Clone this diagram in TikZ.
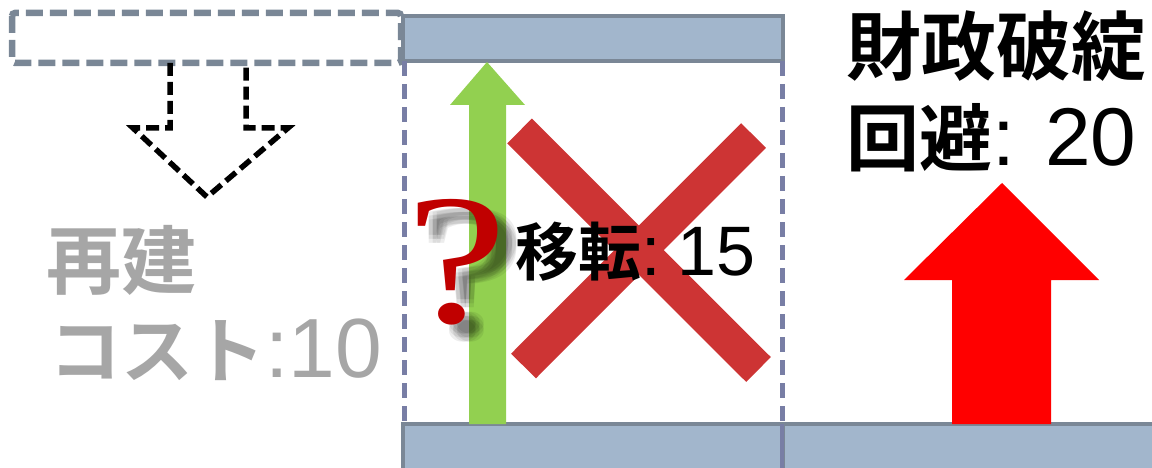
\documentclass[tikz,border=0pt]{standalone}
\usepackage{fontspec}
\newfontfamily\jp{Noto Sans CJK JP}[BoldFont={Noto Sans CJK JP Bold}]
\newfontfamily\arf{Liberation Sans}
\newfontfamily\serf{Liberation Serif}
\definecolor{boxgray}{RGB}{122,135,150}
\definecolor{barfill}{RGB}{162,182,204}
\definecolor{guideblue}{RGB}{120,126,165}
\definecolor{arrowgreen}{RGB}{146,208,80}
\definecolor{crossred}{RGB}{205,52,52}
\definecolor{qred}{RGB}{192,0,0}
\definecolor{txtgray}{RGB}{166,166,166}
\begin{document}
\begin{tikzpicture}[x=1pt,y=-1pt,
  ghostbox/.style={draw=boxgray,line width=6.5pt,dash pattern=on 17pt off 7pt,rounded corners=3pt},
  barbox/.style={fill=barfill,draw=boxgray,line width=3.5pt},
  guide/.style={draw=guideblue,line width=5pt,dash pattern=on 15pt off 8pt},
  dasharrow/.style={draw=black,line width=5.5pt,dash pattern=on 13pt off 6pt,line join=miter},
  crossbar/.style={draw=crossred,line width=35pt,line cap=butt},
  lbl/.style={inner sep=0,outer sep=0,anchor=base west},
  qmark/.style={lbl,xscale=1.22,font=\serf\fontsize{186}{186}\selectfont}]
\useasboundingbox (0,0) rectangle (1152,468);
% ghost box and dashed arrow
\draw[ghostbox] (12,13) rectangle (401,63);
\draw[dasharrow] (170,63) -- (170,128) -- (133,128) -- (207,197) -- (288,128) -- (246,128) -- (246,63);
% bars
\draw[barbox] (403,16) rectangle (783,61);
\draw[barbox] (403,424) rectangle (783,480);
\draw[barbox] (783,424) rectangle (1165,480);
% guides
\draw[guide] (404,61) -- (404,424);
\draw[guide] (782,61) -- (782,424);
\draw[guideblue,line width=3.5pt] (782,424) -- (782,468);
% green arrow
\fill[arrowgreen] (469,424) -- (469,105) -- (450,105) -- (487,62) -- (525,105) -- (506,105) -- (506,424) -- cycle;
% red cross
\draw[crossbar] (519.5,131) -- (758.5,369.5);
\draw[crossbar] (753.5,135.5) -- (523.5,366);
% question mark with soft shadow
\foreach \dx/\dy in {11/9,15/9,19/9,11/13,15/13,19/13,11/17,15/17,19/17}{
  \node[qmark,text=black,opacity=0.07] at (406+\dx,322+\dy) {?};
}
\node[qmark,text=qred] (q) at (406,322) {?};
% red arrow
\fill[red] (952,424) -- (952,280) -- (904,280) -- (1002,183) -- (1099,280) -- (1051,280) -- (1051,424) -- cycle;
% texts
\node[lbl] (move) at (515,275) {{\jp\bfseries\fontsize{63}{70}\selectfont 移転}{\arf\fontsize{70}{80}\selectfont:\hspace{0.25em}15}};
\node[lbl] (bank1) at (846,75) {\jp\bfseries\fontsize{75}{80}\selectfont 財政破綻};
\node[lbl] (bank2) at (846,166) {{\jp\bfseries\fontsize{73}{80}\selectfont 回避}{\arf\fontsize{82}{90}\selectfont: 20}};
\node[lbl,text=txtgray] (re1) at (46,288) {\jp\bfseries\fontsize{75}{80}\selectfont 再建};
\node[lbl,text=txtgray] (re2) at (49,377) {{\jp\bfseries\fontsize{72}{80}\selectfont コスト}{\arf\fontsize{84}{90}\selectfont :10}};
\end{tikzpicture}
\end{document}
